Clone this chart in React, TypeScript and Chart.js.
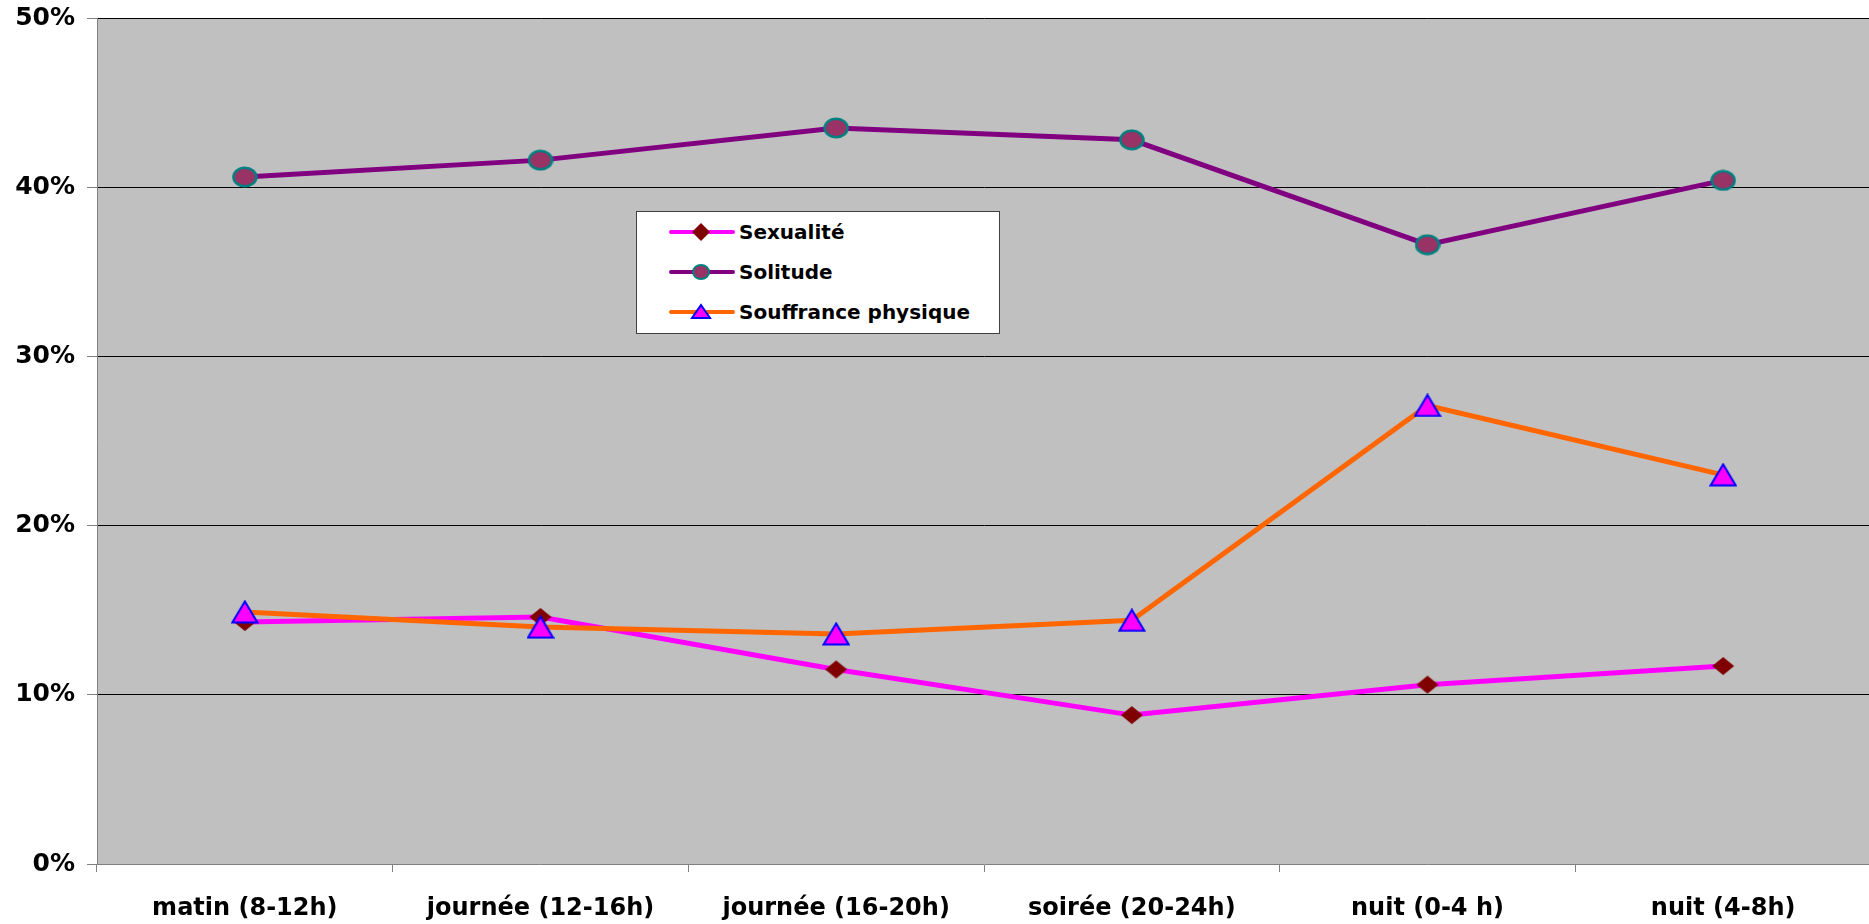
import React, { useEffect, useRef } from "react";
import { Chart, registerables } from "chart.js";

Chart.register(...registerables);

const categories = [
  "matin (8-12h)",
  "journée (12-16h)",
  "journée (16-20h)",
  "soirée (20-24h)",
  "nuit (0-4 h)",
  "nuit (4-8h)",
];
const sexualite = [14.3, 14.6, 11.5, 8.8, 10.6, 11.7];
const solitude = [40.6, 41.6, 43.5, 42.8, 36.6, 40.4];
const souffrance = [14.9, 14.0, 13.6, 14.4, 27.1, 23.0];
const seriesNames = ["Sexualité", "Solitude", "Souffrance physique"];
const yMin = 0;
const yMax = 50;
const yStep = 10;

const FONT = "'DejaVu Sans', Verdana, sans-serif";

const bgPlugin = {
  id: "plotBg",
  beforeDraw(chart: any) {
    const { ctx, chartArea } = chart;
    if (!chartArea) return;
    ctx.save();
    ctx.fillStyle = "#C0C0C0";
    ctx.fillRect(chartArea.left, chartArea.top, chartArea.right - chartArea.left, chartArea.bottom - chartArea.top);
    ctx.restore();
  },
};

function makeDiamond() {
  const c = document.createElement("canvas");
  c.width = 24;
  c.height = 20;
  const g = c.getContext("2d")!;
  g.fillStyle = "#800000";
  g.beginPath();
  g.moveTo(12, 1);
  g.lineTo(23, 10);
  g.lineTo(12, 19);
  g.lineTo(1, 10);
  g.closePath();
  g.fill();
  return c;
}

function makeEllipse() {
  const c = document.createElement("canvas");
  c.width = 26;
  c.height = 22;
  const g = c.getContext("2d")!;
  g.fillStyle = "#993366";
  g.strokeStyle = "#008080";
  g.lineWidth = 2.5;
  g.beginPath();
  g.ellipse(13, 11, 11.5, 9.3, 0, 0, Math.PI * 2);
  g.fill();
  g.stroke();
  return c;
}

function makeTriangle() {
  const c = document.createElement("canvas");
  c.width = 28;
  c.height = 24;
  const g = c.getContext("2d")!;
  g.fillStyle = "#FF00FF";
  g.strokeStyle = "#0000FF";
  g.lineWidth = 2;
  g.lineJoin = "miter";
  g.beginPath();
  g.moveTo(14, 1.5);
  g.lineTo(26.5, 22.5);
  g.lineTo(1.5, 22.5);
  g.closePath();
  g.fill();
  g.stroke();
  return c;
}

function LegendRow({ name, idx }: { name: string; idx: number }) {
  const lineColors = ["#FF00FF", "#800080", "#FF6600"];
  let marker: any = null;
  if (idx === 0) {
    marker = <polygon points="32,1 41,10 32,19 23,10" fill="#800000" />;
  } else if (idx === 1) {
    marker = <ellipse cx="32" cy="10" rx="8" ry="7" fill="#993366" stroke="#008080" strokeWidth="2" />;
  } else {
    marker = <polygon points="32,3 41,16 23,16" fill="#FF00FF" stroke="#0000FF" strokeWidth="2" />;
  }
  return (
    <div style={{ display: "flex", alignItems: "center", height: 40 }}>
      <svg width="68" height="20" style={{ marginLeft: 32, flex: "none" }}>
        <line x1="2" y1="10" x2="64" y2="10" stroke={lineColors[idx]} strokeWidth="4" strokeLinecap="round" />
        {marker}
      </svg>
      <span style={{ fontFamily: FONT, fontWeight: "bold", fontSize: 20, color: "#000", marginLeft: 2, whiteSpace: "nowrap" }}>
        {name}
      </span>
    </div>
  );
}

export default function App() {
  const canvasRef = useRef<HTMLCanvasElement | null>(null);

  useEffect(() => {
    if (!canvasRef.current) return;
    const diamond = makeDiamond();
    const ellipse = makeEllipse();
    const triangle = makeTriangle();
    const chart = new Chart(canvasRef.current, {
      type: "line",
      data: {
        labels: categories,
        datasets: [
          {
            label: seriesNames[0],
            data: sexualite,
            borderColor: "#FF00FF",
            backgroundColor: "#800000",
            borderWidth: 5,
            pointStyle: diamond as any,
            pointRadius: 10,
            tension: 0,
            order: 2,
          },
          {
            label: seriesNames[1],
            data: solitude,
            borderColor: "#800080",
            backgroundColor: "#993366",
            borderWidth: 5,
            pointStyle: ellipse as any,
            pointRadius: 11,
            tension: 0,
            order: 1,
          },
          {
            label: seriesNames[2],
            data: souffrance,
            borderColor: "#FF6600",
            backgroundColor: "#FF00FF",
            borderWidth: 5,
            pointStyle: triangle as any,
            pointRadius: 13,
            tension: 0,
            order: 0,
          },
        ],
      },
      options: {
        animation: false,
        responsive: false,
        maintainAspectRatio: false,
        layout: { padding: { top: 17, right: 0, bottom: 0, left: 0 } },
        plugins: {
          legend: { display: false },
          tooltip: { enabled: false },
        },
        scales: {
          x: {
            type: "category",
            offset: true,
            afterFit(scale: any) {
              scale.height = 60;
            },
            grid: {
              offset: true,
              drawOnChartArea: false,
              drawTicks: true,
              tickLength: 8,
              tickColor: "#808080",
              lineWidth: 1,
            },
            border: { color: "#808080", width: 1 },
            ticks: {
              color: "#000",
              padding: 22,
              maxRotation: 0,
              autoSkip: false,
              font: { family: FONT, weight: "bold", size: 24 },
            },
          },
          y: {
            min: yMin,
            max: yMax,
            afterFit(scale: any) {
              scale.width = 97;
              scale.paddingTop = 0;
              scale.paddingBottom = 0;
            },
            grid: {
              color: (c: any) => (c.tick && c.tick.value === 0 ? "rgba(0,0,0,0)" : "#000000"),
              lineWidth: 1,
              drawTicks: true,
              tickLength: 10,
              tickColor: "#808080",
            },
            border: { color: "#808080", width: 1 },
            ticks: {
              stepSize: yStep,
              color: "#000",
              padding: 12,
              font: { family: FONT, weight: "bold", size: 25 },
              callback: (v: any) => `${v}%`,
            },
          },
        },
      },
      plugins: [bgPlugin],
    });
    return () => chart.destroy();
  }, []);

  return (
    <div style={{ position: "fixed", left: 0, top: 0, width: 1869, height: 924, overflow: "hidden", background: "#fff" }}>
      <canvas ref={canvasRef} width={1889} height={924} style={{ display: "block", width: 1889, height: 924 }} />
      <div
        style={{
          position: "absolute",
          left: 636,
          top: 211,
          width: 362,
          height: 121,
          background: "#fff",
          border: "1px solid #404040",
          paddingTop: 0,
          boxSizing: "content-box",
        }}
      >
        {seriesNames.map((n, i) => (
          <LegendRow key={n} name={n} idx={i} />
        ))}
      </div>
    </div>
  );
}
